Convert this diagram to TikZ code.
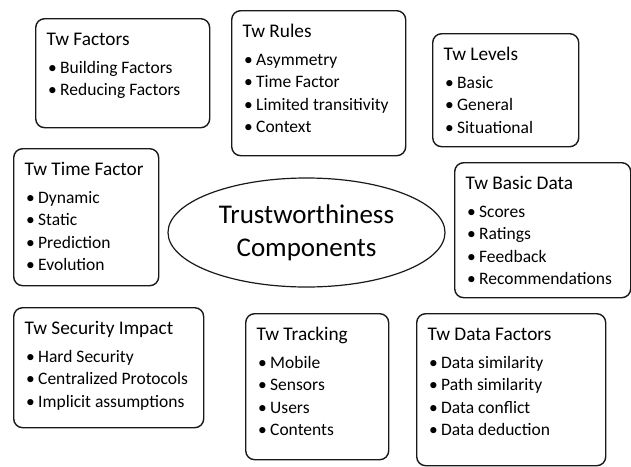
\documentclass[tikz,border=0pt]{standalone}
\usepackage{fontspec}
\setmainfont{Carlito}
\usetikzlibrary{shapes.geometric}

% heading line and bullet line inside a component box
\newcommand{\twhead}[1]{{\fontsize{19.3}{23}\selectfont\rule{0pt}{14pt}#1}\\[5.5pt]}
\newcommand{\twitem}[1]{\mbox{\hspace*{1.5pt}\makebox[12pt][l]{\textbullet}#1}}

\tikzset{
  twbox/.style={draw=black!90, line width=1.4pt, rounded corners=9pt,
    anchor=north west, inner xsep=11pt, inner ysep=12.5pt,
    font=\fontsize{17.5}{22.5}\selectfont},
  core/.style={draw=black!90, line width=1.2pt, ellipse,
    minimum width=277pt, minimum height=109pt, inner sep=0pt,
    align=center, font=\fontsize{27}{33}\selectfont}
}

\begin{document}
\begin{tikzpicture}[x=1pt, y=-1pt]
    \useasboundingbox (0,0) rectangle (631,466);

    \node[core] (core) at (306.5,232.5) {Trustworthiness\\Components};

    \node[twbox] (factors) at (35,18) {\parbox[t][84pt][t]{152pt}{\raggedright
        \twhead{Tw Factors}
        \twitem{Building Factors}\\
        \twitem{Reducing Factors}}};
    \node[twbox] (rules) at (231,10) {\parbox[t][120pt][t]{152pt}{\raggedright
        \twhead{Tw Rules}
        \twitem{Asymmetry}\\
        \twitem{Time Factor}\\
        \twitem{Limited transitivity}\\
        \twitem{Context}}};
    \node[twbox] (levels) at (432,33) {\parbox[t][88pt][t]{124pt}{\raggedright
        \twhead{Tw Levels}
        \twitem{Basic}\\
        \twitem{General}\\
        \twitem{Situational}}};
    \node[twbox] (timef) at (13,148) {\parbox[t][112pt][t]{123pt}{\raggedright
        \twhead{Tw Time Factor}
        \twitem{Dynamic}\\
        \twitem{Static}\\
        \twitem{Prediction}\\
        \twitem{Evolution}}};
    \node[twbox] (basic) at (454,162) {\parbox[t][110pt][t]{154pt}{\raggedright
        \twhead{Tw Basic Data}
        \twitem{Scores}\\
        \twitem{Ratings}\\
        \twitem{Feedback}\\
        \twitem{Recommendations}}};
    \node[twbox] (security) at (13,307) {\parbox[t][95pt][t]{168pt}{\raggedright
        \twhead{Tw Security Impact}
        \twitem{Hard Security}\\
        \twitem{Centralized Protocols}\\
        \twitem{Implicit assumptions}}};
    \node[twbox] (tracking) at (245,313) {\parbox[t][121pt][t]{121pt}{\raggedright
        \twhead{Tw Tracking}
        \twitem{Mobile}\\
        \twitem{Sensors}\\
        \twitem{Users}\\
        \twitem{Contents}}};
    \node[twbox] (datafac) at (416,313) {\parbox[t][127pt][t]{167pt}{\raggedright
        \twhead{Tw Data Factors}
        \twitem{Data similarity}\\
        \twitem{Path similarity}\\
        \twitem{Data conflict}\\
        \twitem{Data deduction}}};
\end{tikzpicture}
\end{document}
